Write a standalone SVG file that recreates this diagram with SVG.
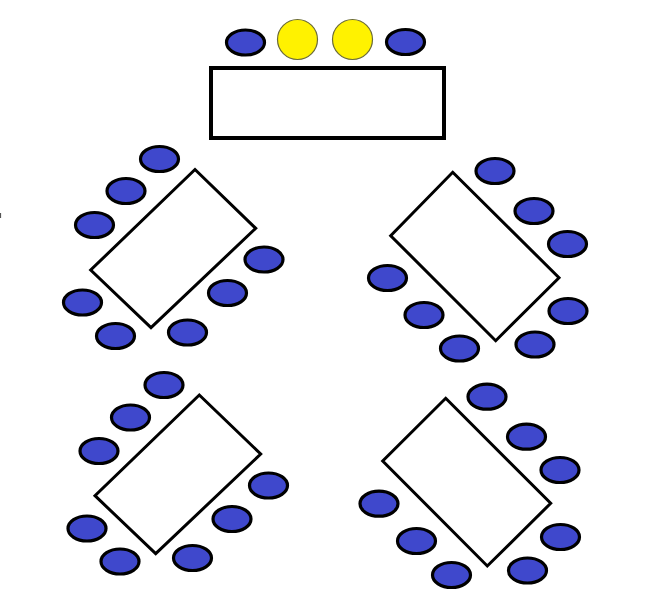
<svg xmlns="http://www.w3.org/2000/svg" width="670" height="611" viewBox="0 0 670 611">
<style>
.chair{fill:#3f48cc;stroke:#000;stroke-width:3.2}
.guest{fill:#fff200;stroke:#6b6b3a;stroke-width:1.2}
.table{fill:#fff;stroke:#000;stroke-width:3}
.head{fill:#fff;stroke:#000;stroke-width:4}
</style>
<rect width="670" height="611" fill="#fff"/>
<path d="M0.5 213v5" stroke="#555" stroke-width="1.2"/>
<g id="head-table">
<rect class="head" x="211" y="68" width="233" height="70"/>
<ellipse class="chair" cx="245.5" cy="42.5" rx="19" ry="12.5"/>
<circle class="guest" cx="297.5" cy="39.5" r="20"/>
<circle class="guest" cx="352.5" cy="39.5" r="20"/>
<ellipse class="chair" cx="405.5" cy="42" rx="19" ry="12.5"/>
</g>
<g id="table-top-left">
<polygon class="table" points="195,169.5 255.7,228.3 151,327.7 90.7,270"/>
<ellipse class="chair" cx="159.5" cy="159" rx="19" ry="12.5"/>
<ellipse class="chair" cx="126" cy="191" rx="19" ry="12.5"/>
<ellipse class="chair" cx="94.5" cy="225" rx="19" ry="12.5"/>
<ellipse class="chair" cx="264" cy="259.5" rx="19" ry="12.5"/>
<ellipse class="chair" cx="227.5" cy="293" rx="19" ry="12.5"/>
<ellipse class="chair" cx="82.5" cy="302.5" rx="19" ry="12.5"/>
<ellipse class="chair" cx="115.5" cy="336" rx="19" ry="12.5"/>
<ellipse class="chair" cx="187.5" cy="332.5" rx="19" ry="12.5"/>
</g>
<g id="table-top-right">
<polygon class="table" points="452.7,172.3 559,277.7 495.7,340.7 390.7,235.7"/>
<ellipse class="chair" cx="495" cy="171" rx="19" ry="12.5"/>
<ellipse class="chair" cx="534" cy="211" rx="19" ry="12.5"/>
<ellipse class="chair" cx="567.5" cy="244" rx="19" ry="12.5"/>
<ellipse class="chair" cx="387.5" cy="278" rx="19" ry="12.5"/>
<ellipse class="chair" cx="424" cy="315" rx="19" ry="12.5"/>
<ellipse class="chair" cx="459.5" cy="348.5" rx="19" ry="12.5"/>
<ellipse class="chair" cx="568" cy="311" rx="19" ry="12.5"/>
<ellipse class="chair" cx="535" cy="344.5" rx="19" ry="12.5"/>
</g>
<g id="table-bottom-left">
<polygon class="table" points="199.3,395 260.7,454 155.7,553.7 95,495.7"/>
<ellipse class="chair" cx="164" cy="385" rx="19" ry="12.5"/>
<ellipse class="chair" cx="130.5" cy="417.5" rx="19" ry="12.5"/>
<ellipse class="chair" cx="99" cy="451" rx="19" ry="12.5"/>
<ellipse class="chair" cx="268.5" cy="485.5" rx="19" ry="12.5"/>
<ellipse class="chair" cx="232" cy="519" rx="19" ry="12.5"/>
<ellipse class="chair" cx="87" cy="528.5" rx="19" ry="12.5"/>
<ellipse class="chair" cx="120" cy="561.5" rx="19" ry="12.5"/>
<ellipse class="chair" cx="192.5" cy="558" rx="19" ry="12.5"/>
</g>
<g id="table-bottom-right">
<polygon class="table" points="445.7,398.3 550.7,503.3 487.3,566 382.7,461"/>
<ellipse class="chair" cx="487" cy="396.7" rx="19" ry="12.5"/>
<ellipse class="chair" cx="526.5" cy="436.7" rx="19" ry="12.5"/>
<ellipse class="chair" cx="560" cy="470" rx="19" ry="12.5"/>
<ellipse class="chair" cx="379" cy="503.7" rx="19" ry="12.5"/>
<ellipse class="chair" cx="416.5" cy="541" rx="19" ry="12.5"/>
<ellipse class="chair" cx="451.5" cy="575" rx="19" ry="12.5"/>
<ellipse class="chair" cx="560.5" cy="537" rx="19" ry="12.5"/>
<ellipse class="chair" cx="527.5" cy="570.5" rx="19" ry="12.5"/>
</g>
</svg>
